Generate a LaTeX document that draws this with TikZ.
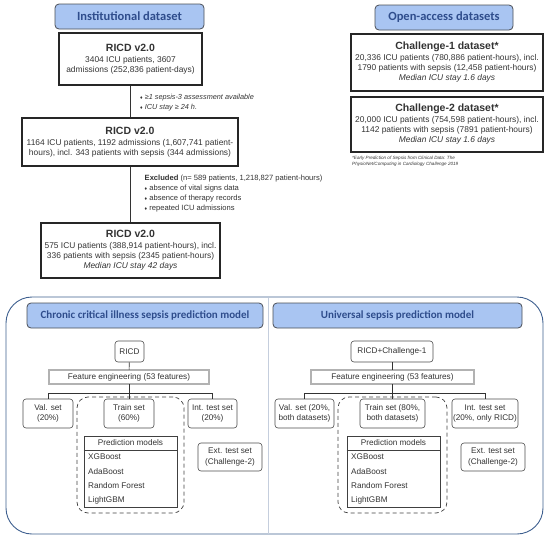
\documentclass[tikz,border=0pt]{standalone}
\usepackage{fontspec}
\setmainfont{Liberation Sans}
\newfontfamily\hdrfont{Carlito}
\definecolor{hdrfill}{HTML}{A9C5F2}
\definecolor{hdrdraw}{HTML}{4A4E55}
\definecolor{hdrtext}{HTML}{2F4D8C}
\definecolor{panelc}{HTML}{3E5F8F}
\definecolor{divc}{HTML}{C5CEDD}
\definecolor{bodytext}{HTML}{333333}
\begin{document}
\begin{tikzpicture}[x=1pt,y=-1pt,
  every node/.style={text=bodytext},
  hdr/.style={draw=hdrdraw, fill=hdrfill, rounded corners=4pt, line width=0.8pt, text=hdrtext, inner sep=0pt},
  bigbox/.style={draw=black!85, line width=1.1pt, align=center, font=\fontsize{8.4}{10}\selectfont, inner sep=0pt},
  smallbox/.style={draw=black!70, rounded corners=3pt, line width=0.6pt, align=center, font=\fontsize{8.2}{10.5}\selectfont, inner sep=0pt},
  febox/.style={draw=black!70, double=black!30, double distance=1.4pt, line width=0.5pt, font=\fontsize{8.2}{10}\selectfont, inner sep=0pt},
  dashbox/.style={draw=black!75, dashed, dash pattern=on 4pt off 3pt, rounded corners=11pt, line width=0.7pt, inner sep=0pt},
  pmbox/.style={draw=black!75, line width=0.6pt, inner sep=0pt},
  pmtext/.style={anchor=west, font=\fontsize{8.2}{10}\selectfont, inner sep=0pt},
  conn/.style={draw=black!80, line width=0.6pt},
  note/.style={align=left, inner sep=0pt, font=\fontsize{7.6}{10}\selectfont}
]
\useasboundingbox (0,0) rectangle (550,539);

% ---------- Institutional dataset ----------
\node[hdr, minimum width=149, minimum height=25, font=\hdrfont\bfseries\fontsize{12.5}{14}\selectfont] (hInst) at (129.5,16.5) {Institutional dataset};
\node[bigbox, minimum width=143, minimum height=52] (b1) at (130.5,59)
  {{\bfseries\fontsize{10.5}{12}\selectfont RICD v2.0}\\[1pt]3404 ICU patients, 3607\\admissions (252,836 patient-days)};
\node[bigbox, minimum width=216, minimum height=48] (b2) at (130,142)
  {{\bfseries\fontsize{10.5}{12}\selectfont RICD v2.0}\\[1pt]1164 ICU patients, 1192 admissions (1,607,741 patient-\\hours), incl. 343 patients with sepsis (344 admissions)};
\node[bigbox, minimum width=179, minimum height=55] (b3) at (130.5,250.5)
  {{\bfseries\fontsize{10.5}{12}\selectfont RICD v2.0}\\[1pt]575 ICU patients (388,914 patient-hours), incl.\\336 patients with sepsis (2345 patient-hours)\\\itshape Median ICU stay 42 days};
\draw[conn] (b1.south) -- (b1.south |- b2.north);
\draw[conn] (b2.south -| b1.south) -- (b1.south |- b3.north);
\node[note, anchor=west, font=\itshape\fontsize{7.3}{10.5}\selectfont] (n1) at (140,102.5)
  {{\upshape\fontsize{5}{5}\selectfont ♦} ≥1 sepsis-3 assessment available\\{\upshape\fontsize{5}{5}\selectfont ♦} ICU stay ≥ 24 h.};
\node[note, anchor=north west] (n2) at (144.5,175)
  {\textbf{Excluded} (n= 589 patients, 1,218,827 patient-hours)\\{\fontsize{5}{5}\selectfont ♦} absence of vital signs data\\{\fontsize{5}{5}\selectfont ♦} absence of therapy records\\{\fontsize{5}{5}\selectfont ♦} repeated ICU admissions};

% ---------- Open-access datasets ----------
\node[hdr, minimum width=138, minimum height=25, font=\hdrfont\bfseries\fontsize{12.5}{14}\selectfont] (hOpen) at (444,17.5) {Open-access datasets};
\node[bigbox, minimum width=192, minimum height=57] (c1) at (447,62.5)
  {{\bfseries\fontsize{10.5}{12}\selectfont Challenge-1 dataset*}\\[1pt]20,336 ICU patients (780,886 patient-hours), incl.\\1790 patients with sepsis (12,458 patient-hours)\\\itshape Median ICU stay 1.6 days};
\node[bigbox, minimum width=192, minimum height=55] (c2) at (447,124.5)
  {{\bfseries\fontsize{10.5}{12}\selectfont Challenge-2 dataset*}\\[1pt]20,000 ICU patients (754,598 patient-hours), incl.\\1142 patients with sepsis (7891 patient-hours)\\\itshape Median ICU stay 1.6 days};
\node[note, anchor=north west, font=\itshape\fontsize{4.6}{6}\selectfont] (fn) at (352,155.5)
  {*Early Prediction of Sepsis from Clinical Data: The\\PhysioNet/Computing in Cardiology Challenge 2019};

% ---------- Bottom panel ----------
\draw[draw=panelc, line width=0.9pt, rounded corners=26pt] (6,297) rectangle (543,534);
\draw[draw=divc, line width=0.9pt] (268,297.5) -- (268,533.5);
\node[hdr, minimum width=236, minimum height=25, font=\hdrfont\bfseries\fontsize{11}{13}\selectfont] (hL) at (145,315.5) {Chronic critical illness sepsis prediction model};
\node[hdr, minimum width=249, minimum height=25, font=\hdrfont\bfseries\fontsize{11}{13}\selectfont] (hR) at (397.5,315.5) {Universal sepsis prediction model};

% Left column
\node[smallbox, minimum width=29, minimum height=21] (ricdL) at (129.5,351.5) {RICD};
\node[febox, minimum width=160, minimum height=14] (feL) at (129,377) {Feature engineering (53 features)};
\draw[conn] (ricdL) -- (feL);
\node[dashbox, minimum width=107, minimum height=116] (dL) at (130.5,455) {};
\node[smallbox, minimum width=50, minimum height=29] (valL) at (48,413.5) {Val. set\\(20\%)};
\node[smallbox, minimum width=50, minimum height=29, fill=white] (trainL) at (129,413.5) {Train set\\(60\%)};
\node[smallbox, minimum width=49, minimum height=29] (intL) at (212.5,413.5) {Int. test set\\(20\%)};
\coordinate (sL) at (129,393);
\draw[conn] (feL) -- (sL);
\draw[conn] (sL) -| (valL);
\draw[conn] (sL) -| (intL);
\draw[conn] (sL) -- (trainL);
\node[pmbox, minimum width=93, minimum height=71] (pmL) at (130.5,471.5) {};
\draw[pmbox] (pmL.west |- 0,450) -- (pmL.east |- 0,450);
\node[pmtext, anchor=center] (pmhL) at (130.5,443) {Prediction models};
\node[pmtext] (x1L) at (88,457) {XGBoost};
\node[pmtext] (x2L) at (88,471.5) {AdaBoost};
\node[pmtext] (x3L) at (88,486) {Random Forest};
\node[pmtext] (x4L) at (88,500) {LightGBM};
\node[smallbox, minimum width=64, minimum height=28] (extL) at (230,457) {Ext. test set\\(Challenge-2)};

% Right column
\node[smallbox, minimum width=82, minimum height=21] (ricdR) at (392,351.5) {RICD+Challenge-1};
\node[febox, minimum width=163, minimum height=14] (feR) at (392.5,377) {Feature engineering (53 features)};
\draw[conn] (ricdR) -- (ricdR |- feR.north);
\node[dashbox, minimum width=109, minimum height=116] (dR) at (392.5,455) {};
\node[smallbox, minimum width=59, minimum height=29] (valR) at (304.5,413.5) {Val. set (20\%,\\both datasets)};
\node[smallbox, minimum width=65, minimum height=29, fill=white] (trainR) at (392.5,413.5) {Train set (80\%,\\both datasets)};
\node[smallbox, minimum width=66, minimum height=29] (intR) at (485,413.5) {Int. test set\\(20\%, only RICD)};
\coordinate (sR) at (392.5,393);
\draw[conn] (feR) -- (sR);
\draw[conn] (sR) -| (valR);
\draw[conn] (sR) -| (intR);
\draw[conn] (sR) -- (trainR);
\node[pmbox, minimum width=93, minimum height=71] (pmR) at (393.5,471.5) {};
\draw[pmbox] (pmR.west |- 0,450) -- (pmR.east |- 0,450);
\node[pmtext, anchor=center] (pmhR) at (393.5,443) {Prediction models};
\node[pmtext] (x1R) at (351,457) {XGBoost};
\node[pmtext] (x2R) at (351,471.5) {AdaBoost};
\node[pmtext] (x3R) at (351,486) {Random Forest};
\node[pmtext] (x4R) at (351,500) {LightGBM};
\node[smallbox, minimum width=64, minimum height=28] (extR) at (493,457) {Ext. test set\\(Challenge-2)};
\end{tikzpicture}
\end{document}
